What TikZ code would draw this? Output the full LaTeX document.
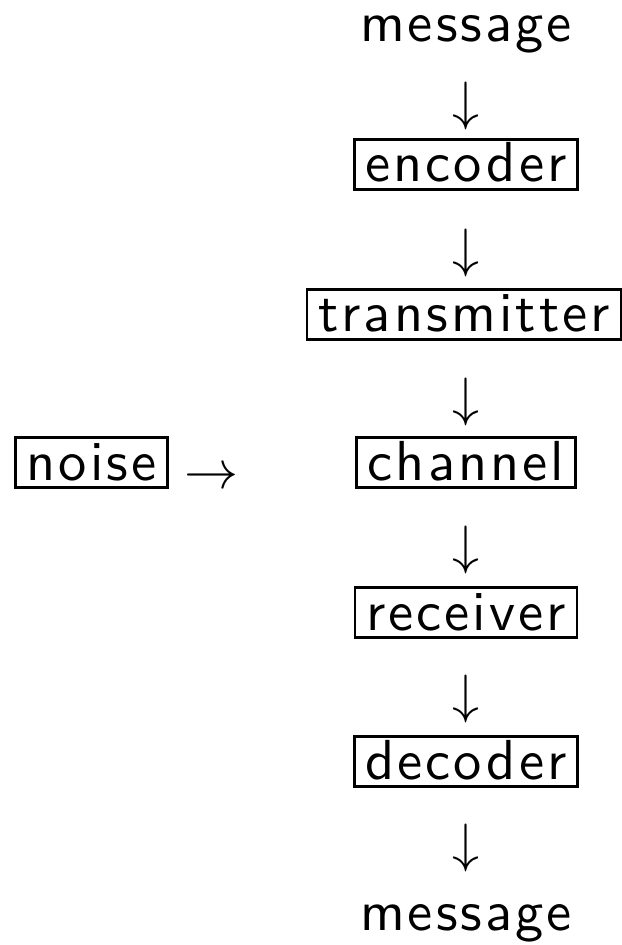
\documentclass[tikz,border=0pt]{standalone}
\usepackage{fontspec}
\newfontfamily\refsans{lmsans10-regular}[Extension=.otf, LetterSpace=5.5]
\begin{document}
\begin{tikzpicture}[x=0.5pt,y=-0.5pt,
  lbl/.style={font=\refsans\fontsize{28.2pt}{34pt}\selectfont, inner sep=0pt, anchor=base},
  boxed/.style={lbl, draw, line width=1.4pt, inner xsep=5.5pt, inner ysep=0pt, text height=21.25pt, text depth=3.75pt},
  arr/.style={scale=2.7, transform shape, inner sep=0pt}]
\useasboundingbox (0,0) rectangle (621,945);
\node[lbl] (m1) at (466,42) {message};
\node[arr] (a1) at (466,106) {$\downarrow$};
\node[boxed] (enc) at (466,182) {encoder};
\node[arr] (a2) at (466,253) {$\downarrow$};
\node[boxed] (tx) at (464,332) {transmitter};
\node[arr] (a3) at (466,402) {$\downarrow$};
\node[boxed] (ch) at (466,480) {channel};
\node[boxed] (noise) at (91.5,480) {noise};
\node[arr] (a0) at (211,479) {$\rightarrow$};
\node[arr] (a4) at (466,550) {$\downarrow$};
\node[boxed] (rx) at (466,630) {receiver};
\node[arr] (a5) at (466,699) {$\downarrow$};
\node[boxed] (dec) at (466,779) {decoder};
\node[arr] (a6) at (466,848) {$\downarrow$};
\node[lbl] (m2) at (466,930) {message};
\end{tikzpicture}
\end{document}
